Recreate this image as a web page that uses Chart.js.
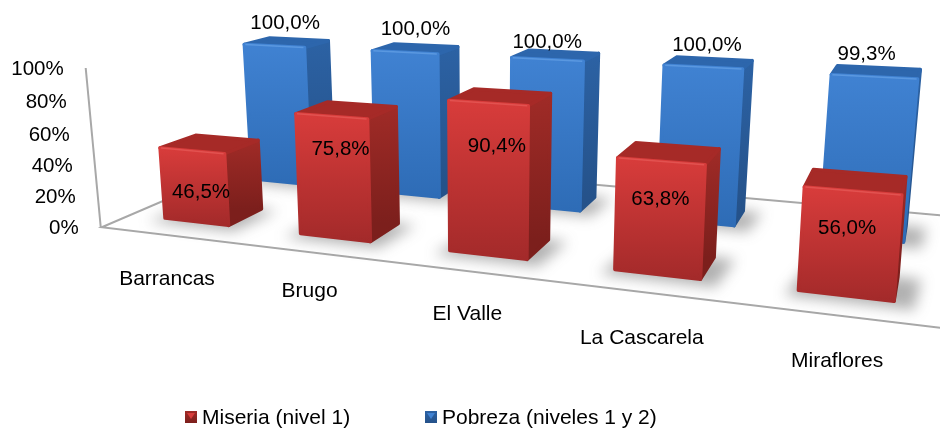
<!DOCTYPE html>
<html>
<head>
<meta charset="utf-8">
<style>
html, body { margin: 0; padding: 0; background: #fff; }
#wrap { width: 940px; height: 430px; }
</style>
<script src="https://cdn.jsdelivr.net/npm/chart.js@4"></script>
</head>
<body>
<div id="wrap"><canvas id="chart" width="940" height="430"></canvas></div>
<script>
var categories = ['Barrancas', 'Brugo', 'El Valle', 'La Cascarela', 'Miraflores'];
var miseria = [46.5, 75.8, 90.4, 63.8, 56.0];
var pobreza = [100.0, 100.0, 100.0, 100.0, 99.3];
var tickLabels = [0, 20, 40, 60, 80, 100];

var FONT = '20.5px "Liberation Sans"';
var NAME_FONT = '21px "Liberation Sans"';

// depth rows on the floor: front and back of each bar, back wall
var rows = {
    0: { front: 0.037, back: 0.085, label: 0.056 },
    1: { front: 0.165, back: 0.207, label: 0.180 }
};
var wallDepth = 0.245;

var faces = {
    0: { frontTop: '#d83c3b', frontBottom: '#a32a2a', sideTop: '#a02b27', sideBottom: '#7c1f1c', top: '#a62a27', rim: '#e25250' },
    1: { frontTop: '#4082d2', frontBottom: '#2e6cb6', sideTop: '#2c62a4', sideBottom: '#25528a', top: '#2d66ac', rim: '#5a98e0' }
};

// the 3D camera of the original chart. u = category units, z = depth, h = value / 100
function project(u, z, h) {
    var i = u - 0.5;
    var w = 1 - 0.048 * i + z;
    var fx = (168 + 127.7 * i + 965 * z) / w;
    var fy = (235.16 + 5 * i - 143 * z) / w;
    return {
        x: fx + (fx - 482) * 0.0337 * h,
        y: fy - 158 / w * h
    };
}

function poly(ctx, pts) {
    ctx.beginPath();
    ctx.moveTo(pts[0].x, pts[0].y);
    for (var i = 1; i < pts.length; i++) ctx.lineTo(pts[i].x, pts[i].y);
    ctx.closePath();
}

function paint(ctx, pts, fill) {
    poly(ctx, pts);
    ctx.fillStyle = fill;
    ctx.strokeStyle = fill;
    ctx.lineWidth = 3.5;
    ctx.lineJoin = 'round';
    ctx.fill();
    ctx.stroke();
}

// element pixels from the library -> camera units
function barBox(chart, el) {
    var xs = chart.scales.x, ys = chart.scales.y;
    var unit = xs.width / categories.length;
    return {
        left: (el.x - el.width / 2 - xs.left) / unit,
        right: (el.x + el.width / 2 - xs.left) / unit,
        h: (el.base - el.y) / ys.height
    };
}

function drawFloor(chart) {
    var ctx = chart.ctx;
    var n = categories.length;
    ctx.save();
    ctx.strokeStyle = '#a8a8a8';
    ctx.lineWidth = 2;
    var a = project(0, 0, 0), b = project(n, 0, 0);
    var c = project(0, wallDepth, 0), d = project(n, wallDepth, 0);
    ctx.beginPath();
    ctx.moveTo(d.x, d.y);
    ctx.lineTo(c.x, c.y);
    ctx.lineTo(a.x, a.y);
    ctx.lineTo(b.x, b.y);
    ctx.stroke();
    // value axis leans out with height
    var ys = chart.scales.y;
    ctx.beginPath();
    ctx.moveTo(a.x - 1, ys.getPixelForValue(0));
    ctx.lineTo(a.x - 16, ys.getPixelForValue(100));
    ctx.stroke();
    ctx.restore();
}

function drawShadows(chart) {
    var ctx = chart.ctx;
    ctx.save();
    ctx.filter = 'blur(7px)';
    ctx.fillStyle = 'rgba(70,70,70,0.42)';
    [1, 0].forEach(function (ds) {
        chart.getDatasetMeta(ds).data.forEach(function (el) {
            var box = barBox(chart, el), r = rows[ds];
            poly(ctx, [
                project(box.left - 0.06, r.front - 0.012, 0),
                project(box.right + 0.1, r.front - 0.012, 0),
                project(box.right + 0.12, r.back, 0),
                project(box.left, r.back, 0)
            ]);
            ctx.fill();
        });
    });
    ctx.restore();
}

function drawBar(chart, el, ds) {
    var ctx = chart.ctx, box = barBox(chart, el), r = rows[ds], col = faces[ds];
    var fbl = project(box.left, r.front, 0), fbr = project(box.right, r.front, 0);
    var ftl = project(box.left, r.front, box.h), ftr = project(box.right, r.front, box.h);
    var bbr = project(box.right, r.back, 0);
    var btl = project(box.left, r.back, box.h), btr = project(box.right, r.back, box.h);

    ctx.save();
    ctx.filter = 'blur(0.6px)';
    var side = ctx.createLinearGradient(0, btr.y, 0, bbr.y);
    side.addColorStop(0, col.sideTop);
    side.addColorStop(1, col.sideBottom);
    paint(ctx, [ftr, btr, bbr, fbr], side);
    paint(ctx, [ftl, btl, btr, ftr], col.top);

    var front = ctx.createLinearGradient(0, ftl.y, 0, fbr.y);
    front.addColorStop(0, col.frontTop);
    front.addColorStop(1, col.frontBottom);
    paint(ctx, [ftl, ftr, fbr, fbl], front);

    // soft bevel along the upper edge
    ctx.strokeStyle = col.rim;
    ctx.lineWidth = 1.5;
    ctx.beginPath();
    ctx.moveTo(ftl.x + 1, ftl.y);
    ctx.lineTo(ftr.x - 1, ftr.y);
    ctx.stroke();
    ctx.restore();
}

// the labels in the original do not sit on a clean rule, so each one carries its own nudge
var labelNudgeX = { 0: [-5, -3, -1, -7, -8], 1: [2, 3, -6, 0, -9] };
var labelNudgeY = { 0: [47, 38, 48, 44, 45], 1: [-20, -20, -14, -19, -19] };
var nameNudgeX = [-1, -1, -1, -2, -3];
var nameNudgeY = [44, 39, 43, 46, 45];

function drawLabels(chart) {
    var ctx = chart.ctx, ys = chart.scales.y, xs = chart.scales.x;
    var corner = project(0, 0, 0);
    ctx.save();
    ctx.font = FONT;
    ctx.fillStyle = '#000';
    ctx.textBaseline = 'middle';

    // value ticks follow the leaning axis
    ctx.textAlign = 'right';
    tickLabels.forEach(function (v) {
        var t = v / 100;
        ctx.fillText(v + '%', corner.x - 23 - 15 * t, ys.getPixelForValue(v) + 1 + 10 * t * (1 - t));
    });

    // category names hang under the front floor edge
    ctx.font = NAME_FONT;
    ctx.textAlign = 'center';
    categories.forEach(function (name, i) {
        var u = (xs.getPixelForValue(i) - xs.left) / (xs.width / categories.length);
        var p = project(u, 0, 0);
        ctx.fillText(name, p.x + nameNudgeX[i], p.y + nameNudgeY[i]);
    });

    // value labels
    ctx.font = FONT;
    [0, 1].forEach(function (ds) {
        var values = chart.data.datasets[ds].data;
        chart.getDatasetMeta(ds).data.forEach(function (el, i) {
            var box = barBox(chart, el);
            var text = values[i].toFixed(1).replace('.', ',') + '%';
            var p = project((box.left + box.right) / 2, rows[ds].label, box.h);
            ctx.fillText(text, p.x + labelNudgeX[ds][i], p.y + labelNudgeY[ds][i]);
        });
    });

    // legend
    var items = [{ ds: 0, x: 185 }, { ds: 1, x: 425 }];
    ctx.font = NAME_FONT;
    ctx.textAlign = 'left';
    items.forEach(function (item) {
        var col = faces[item.ds];
        var g = ctx.createLinearGradient(0, 411, 0, 423);
        g.addColorStop(0, col.sideTop);
        g.addColorStop(1, col.sideBottom);
        ctx.fillStyle = g;
        ctx.fillRect(item.x, 411, 12, 12);
        ctx.fillStyle = col.frontTop;
        ctx.beginPath();
        ctx.moveTo(item.x + 2, 413);
        ctx.lineTo(item.x + 10, 413);
        ctx.lineTo(item.x + 6, 419);
        ctx.closePath();
        ctx.fill();
        ctx.fillStyle = '#000';
        ctx.fillText(chart.data.datasets[item.ds].label, item.x + 17, 418);
    });
    ctx.restore();
}

var bars3d = {
    id: 'bars3d',
    beforeDatasetsDraw: function (chart) {
        drawFloor(chart);
        drawShadows(chart);
    },
    // the flat bars are replaced by their projected boxes
    beforeDatasetDraw: function (chart, args) {
        args.meta.data.forEach(function (el) {
            drawBar(chart, el, args.index);
        });
        return false;
    },
    afterDatasetsDraw: function (chart) {
        drawLabels(chart);
    }
};

Chart.defaults.font.family = '"Liberation Sans"';

new Chart(document.getElementById('chart').getContext('2d'), {
    type: 'bar',
    data: {
        labels: categories,
        datasets: [
            { label: 'Miseria (nivel 1)', data: miseria, backgroundColor: '#c83232' },
            { label: 'Pobreza (niveles 1 y 2)', data: pobreza, backgroundColor: '#3a78c8' }
        ]
    },
    options: {
        responsive: false,
        animation: false,
        layout: { padding: { top: 68, bottom: 203, left: 100, right: 0 } },
        datasets: { bar: { grouped: false, barPercentage: 0.48, categoryPercentage: 1 } },
        scales: {
            x: { display: false },
            y: { display: false, min: 0, max: 100 }
        },
        plugins: {
            legend: { display: false },
            tooltip: { enabled: false }
        }
    },
    plugins: [bars3d]
});
</script>
</body>
</html>
